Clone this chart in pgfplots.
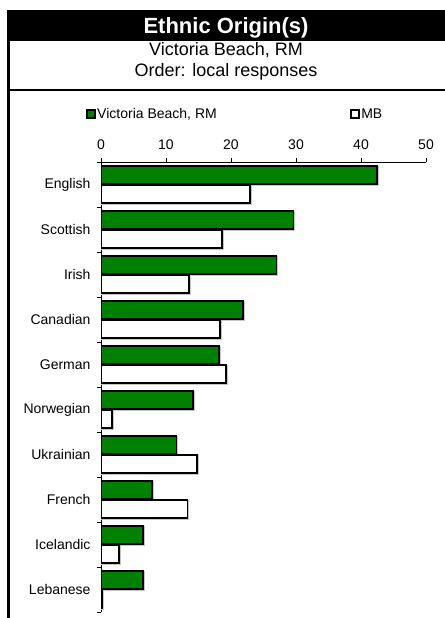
\documentclass[border=0pt]{standalone}
\usepackage{pgfplots}
\usepackage{pgfplotstable}
\pgfplotsset{compat=1.18}
\usepackage{fontspec}
\setmainfont{Liberation Sans}
\definecolor{vbgreen}{RGB}{0,128,0}

% share of responses, %; pos 9 = top row
\pgfplotstableread{
pos vb mb
9 42.4 22.9
8 29.6 18.6
7 27.0 13.5
6 21.9 18.3
5 18.1 19.2
4 14.2 1.7
3 11.6 14.8
2 7.8 13.3
1 6.5 2.8
0 6.5 0.2
}\origins

\begin{document}
\begin{tikzpicture}
\useasboundingbox (0bp,0bp) rectangle (445bp,-618bp);
% header frame
\fill[black] (7bp,-10bp) rectangle (445bp,-41bp);
\draw[line width=3bp] (8.5bp,-10bp) -- (8.5bp,-618bp);
\draw[line width=2bp] (7bp,-89.5bp) -- (445bp,-89.5bp);
\node[white, anchor=base, font=\fontsize{22bp}{26bp}\selectfont\bfseries] at (226bp,-33bp) {Ethnic Origin(s)};
\node[anchor=base, font=\fontsize{18bp}{22bp}\selectfont] at (226bp,-55bp) {Victoria Beach, RM};
\node[anchor=base, font=\fontsize{18bp}{22bp}\selectfont] at (226bp,-76bp) {Order: local responses};

\begin{axis}[
    at={(101bp,-612bp)}, anchor=south west,
    scale only axis, width=325bp, height=450bp,
    xmin=0, xmax=50, ymin=-0.5, ymax=9.5,
    axis x line*=top, axis y line*=left,
    axis line style={line width=0.8bp},
    tick align=outside,
    major tick length=4bp,
    tick style={black, line width=0.8bp},
    xtick={0,10,...,50},
    ytick={-0.5,0.5,...,9.5}, yticklabels={},
    extra y ticks={0,...,9},
    extra y tick labels={Lebanese,Icelandic,French,Ukrainian,Norwegian,German,Canadian,Irish,Scottish,English},
    extra y tick style={major tick length=0pt},
    every tick label/.append style={font=\fontsize{14bp}{16bp}\selectfont},
    /pgf/number format/assume math mode=true,
    xticklabel style={yshift=5bp},
    yticklabel style={xshift=-7bp},
    legend columns=2,
    legend cell align=left,
    legend style={draw=none, fill=none, inner sep=0pt,
        at={(axis description cs:-0.046,1.1067)}, anchor=west,
        font=\fontsize{14bp}{16bp}\selectfont,
        nodes={inner sep=1.5bp},
        /tikz/every even column/.append style={column sep=132bp}},
    legend image code/.code={\draw[#1,/tikz/.cd,line width=1.5bp] (0bp,-4bp) rectangle (8bp,4bp);},
]
% soft shadows behind the bars
\addplot[forget plot, xbar, bar width=18bp, bar shift=8.5bp, xshift=1bp, fill=gray!45, draw=gray!45, line width=1.8bp]
    table[x=vb, y=pos] {\origins};
\addplot[forget plot, xbar, bar width=18bp, bar shift=-10.5bp, xshift=1bp, fill=gray!45, draw=gray!45, line width=1.8bp]
    table[x=mb, y=pos] {\origins};
\addplot[xbar, bar width=18bp, bar shift=9.5bp, fill=vbgreen, draw=black, line width=1.8bp]
    table[x=vb, y=pos] {\origins};
\addlegendentry{Victoria Beach, RM}
\addplot[xbar, bar width=18bp, bar shift=-9.5bp, fill=white, draw=black, line width=1.8bp]
    table[x=mb, y=pos] {\origins};
\addlegendentry{MB}
\end{axis}
\end{tikzpicture}
\end{document}
